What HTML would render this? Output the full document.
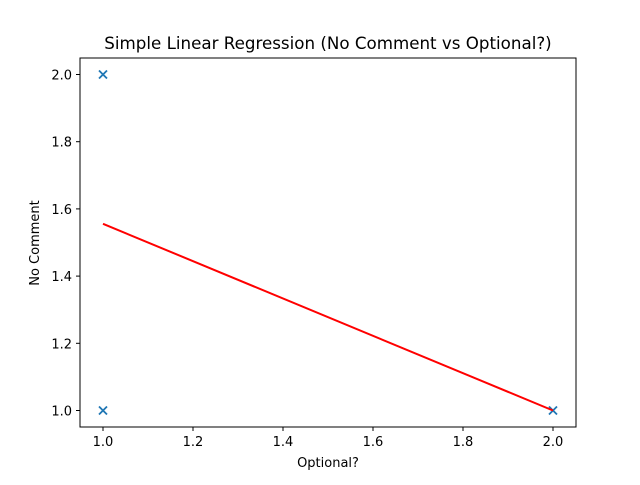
<!DOCTYPE html>
<html><head><meta charset="utf-8"><style>
body{margin:0;background:#fff;}
svg text{font-family:"DejaVu Sans","Liberation Sans",sans-serif;}
</style></head><body>
<svg id="chart" width="640" height="480" xmlns="http://www.w3.org/2000/svg">
<rect width="640" height="480" fill="#fff"/>
<text x="328" y="49" text-anchor="middle" font-size="16.7">Simple Linear Regression (No Comment vs Optional?)</text>
<g id="plot"></g>
<rect x="80" y="58" width="496" height="369" fill="none" stroke="#000" stroke-width="1"/>
<text x="328" y="467" text-anchor="middle" font-size="13">Optional?</text>
<text transform="translate(39,243) rotate(-90)" text-anchor="middle" font-size="13">No Comment</text>
</svg>
<script>
const pointsX=[1,1,2];
const pointsY=[2,1,1];
const lineX=[1,2];
const lineY=[1.5556,1.0];
const xTicks=[1.0,1.2,1.4,1.6,1.8,2.0];
const yTicks=[1.0,1.2,1.4,1.6,1.8,2.0];
const NS="http://www.w3.org/2000/svg";
function sx(v){return 103+(v-1)*450;}
function sy(v){return 410.5-(v-1)*336;}
const g=document.getElementById('plot');
function mk(t,a){const e=document.createElementNS(NS,t);for(const k in a)e.setAttribute(k,a[k]);g.appendChild(e);return e;}
xTicks.forEach(t=>{
  const l=mk('line',{x1:sx(t),x2:sx(t),y1:427,y2:431,stroke:'#000'});
  
  
  const tx=mk('text',{x:sx(t),y:446,'text-anchor':'middle','font-size':'13'});
  tx.textContent=t.toFixed(1);
  
  
});
yTicks.forEach(t=>{
  const l=mk('line',{x1:76,x2:80,y1:sy(t),y2:sy(t),stroke:'#000'});
  
  
  const tx=mk('text',{x:72,y:sy(t)+5,'text-anchor':'end','font-size':'13'});
  tx.textContent=t.toFixed(1);
  
  
});
pointsX.forEach((x,i)=>{
  const cx=sx(x),cy=sy(pointsY[i]);
  const p=mk('path',{d:`M${cx-4},${cy-4}L${cx+4},${cy+4}M${cx-4},${cy+4}L${cx+4},${cy-4}`,stroke:'#1f77b4','stroke-width':'1.8'});
  
  
});
const line=mk('polyline',{points:lineX.map((x,i)=>sx(x)+','+sy(lineY[i])).join(' '),fill:'none',stroke:'#ff0000','stroke-width':'2'});


</script>
</body></html>
